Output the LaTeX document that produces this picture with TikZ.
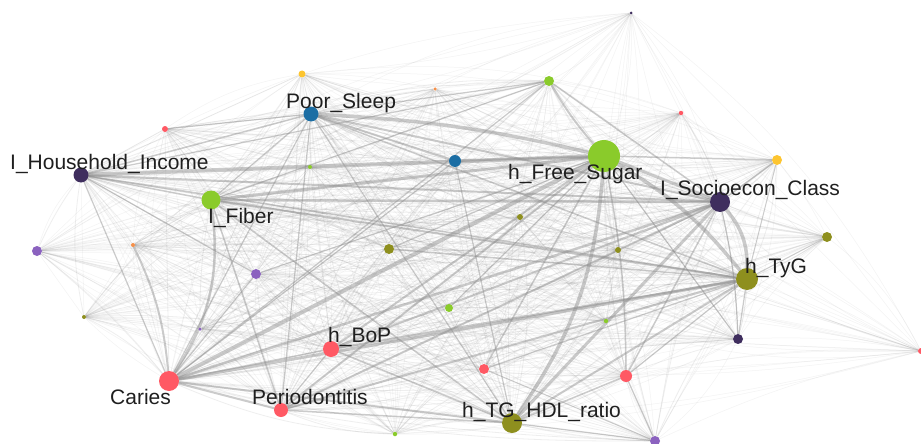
\documentclass[tikz,border=0pt]{standalone}
\usepackage{fontspec}
\setmainfont{Liberation Sans}
\pgfdeclarelayer{back}
\pgfdeclarelayer{bg}
\pgfsetlayers{back,bg,main}
\definecolor{cgreen}{HTML}{8ACB2B}
\definecolor{cblue}{HTML}{1C6EA4}
\definecolor{cdark}{HTML}{3F2E5E}
\definecolor{colive}{HTML}{8E8F1E}
\definecolor{cred}{HTML}{FF5964}
\definecolor{cpurple}{HTML}{8B62BF}
\definecolor{cyellow}{HTML}{FDC530}
\definecolor{corange}{HTML}{F5904A}
\definecolor{edgegray}{HTML}{8C8C8C}
\begin{document}
\begin{tikzpicture}[x=1pt,y=-1pt,
  vtx/.style={circle,inner sep=0pt,draw=none},
  lbl/.style={font=\fontsize{21}{21}\selectfont, text=black!88, inner sep=0pt, anchor=base west},
  faint/.style={draw=edgegray, line width=0.5pt, draw opacity=0.1},
  fan/.style={draw=edgegray, line width=0.8pt, draw opacity=0.14},
  med/.style={draw=edgegray, draw opacity=0.45, line cap=round}]
\useasboundingbox (0,0) rectangle (921,444);
\begin{pgfonlayer}{back}
\fill[white] (0,0) rectangle (921,444);
\end{pgfonlayer}
% vertices
\node[vtx,fill=cdark,minimum size=3pt] (n1) at (631,13) {};
\node[vtx,fill=cyellow,minimum size=7pt] (n2) at (302,74) {};
\node[vtx,fill=corange,minimum size=3.5pt] (n3) at (435,89) {};
\node[vtx,fill=cgreen,minimum size=10pt] (n4) at (549,81) {};
\node[vtx,fill=cred,minimum size=4.5pt] (n5) at (681,113) {};
\node[vtx,fill=cblue,minimum size=15pt] (n6) at (311,114) {};
\node[vtx,fill=cred,minimum size=6pt] (n7) at (165,129) {};
\node[vtx,fill=cblue,minimum size=12pt] (n8) at (455,161) {};
\node[vtx,fill=cgreen,minimum size=32pt] (n9) at (604,156) {};
\node[vtx,fill=cyellow,minimum size=10pt] (n10) at (777,160) {};
\node[vtx,fill=cdark,minimum size=15pt] (n11) at (81,175) {};
\node[vtx,fill=cgreen,minimum size=4pt] (n12) at (310,167) {};
\node[vtx,fill=cgreen,minimum size=19pt] (n13) at (211,200) {};
\node[vtx,fill=cdark,minimum size=20pt] (n14) at (720,202) {};
\node[vtx,fill=colive,minimum size=6pt] (n15) at (520,217) {};
\node[vtx,fill=cpurple,minimum size=10pt] (n16) at (37,251) {};
\node[vtx,fill=corange,minimum size=4pt] (n17) at (133,245) {};
\node[vtx,fill=cpurple,minimum size=10pt] (n18) at (256,274) {};
\node[vtx,fill=colive,minimum size=10pt] (n19) at (389,249) {};
\node[vtx,fill=colive,minimum size=6pt] (n20) at (618,250) {};
\node[vtx,fill=colive,minimum size=10pt] (n21) at (827,237) {};
\node[vtx,fill=colive,minimum size=22pt] (n22) at (747,279) {};
\node[vtx,fill=cgreen,minimum size=8pt] (n23) at (449,308) {};
\node[vtx,fill=cgreen,minimum size=4.5pt] (n24) at (606,321) {};
\node[vtx,fill=colive,minimum size=4pt] (n25) at (84,317) {};
\node[vtx,fill=cpurple,minimum size=3.5pt] (n26) at (200,329) {};
\node[vtx,fill=cred,minimum size=16pt] (n27) at (331,349) {};
\node[vtx,fill=cdark,minimum size=10pt] (n28) at (738,339) {};
\node[vtx,fill=cred,minimum size=6pt] (n29) at (921,351) {};
\node[vtx,fill=cred,minimum size=10pt] (n30) at (484,369) {};
\node[vtx,fill=cred,minimum size=12pt] (n31) at (626,376) {};
\node[vtx,fill=cred,minimum size=20pt] (n32) at (169,381) {};
\node[vtx,fill=cred,minimum size=14pt] (n33) at (281,410) {};
\node[vtx,fill=colive,minimum size=20pt] (n34) at (512,423) {};
\node[vtx,fill=cgreen,minimum size=4.5pt] (n35) at (395,434) {};
\node[vtx,fill=cpurple,minimum size=10pt] (n36) at (655,441) {};
% labels
\node[lbl] (l6) at (286,108) {Poor\_Sleep};
\node[lbl] (l11) at (10,169) {I\_Household\_Income};
\node[lbl] (l13) at (208,223) {I\_Fiber};
\node[lbl] (l9) at (508,179) {h\_Free\_Sugar};
\node[lbl] (l14) at (660,195) {I\_Socioecon\_Class};
\node[lbl] (l22) at (745,273) {h\_TyG};
\node[lbl] (l27) at (328,342) {h\_BoP};
\node[lbl] (l32) at (110,404) {Caries};
\node[lbl] (l33) at (252,404) {Periodontitis};
\node[lbl] (l34) at (462,417) {h\_TG\_HDL\_ratio};
% edges
\begin{pgfonlayer}{bg}
\foreach \i in {1,...,35}{
  \pgfmathtruncatemacro\js{\i+1}
  \foreach \j in {\js,...,36}{
    \pgfmathtruncatemacro\bb{mod(\i*7+\j*13,5)*6-12}
    \draw[faint] (n\i) to[bend left=\bb] (n\j);
  }
}
\foreach \i in {6,9,11,13,14,22,27,32,33,34}{
  \foreach \j in {2,3,4,5,7,8,10,12,15,16,17,18,19,20,21,23,24,25,26,28,30,31,35,36}{
    \pgfmathtruncatemacro\bb{mod(\i*5+\j*11,5)*5-10}
    \draw[fan] (n\i) to[bend left=\bb] (n\j);
  }
}
\foreach \p/\q/\w/\c in {
 9/11/4/0, 9/6/3.5/-5, 9/13/3/0, 9/32/4/0, 9/34/3.5/15, 9/22/3.5/10, 9/14/3/0,
 9/27/2/0, 9/33/2/0, 9/30/1.5/0, 9/31/1.5/5, 9/8/2/0, 9/10/1.5/0, 9/4/2/5,
 9/19/1.2/0, 9/23/1.2/0, 9/28/1.2/0, 9/18/1.2/0,
 14/22/3.5/20, 14/32/2.5/0, 14/34/3/0, 14/33/2/0, 14/27/2/0, 14/13/2.5/0,
 14/11/2/0, 14/6/2/0, 14/10/1.5/0, 14/31/1.5/0, 14/28/1.2/5, 14/4/1.5/0,
 22/32/3/0, 22/33/2/0, 22/34/2/0, 22/27/2/0, 22/13/2/0, 22/11/1.5/0, 22/6/1.5/0,
 22/19/1.5/0, 22/28/1.2/0, 22/31/1.2/0, 22/30/1.2/0,
 32/33/2/0, 32/34/2/0, 32/27/1.5/0, 32/17/2/-10, 32/13/2.5/-20, 32/18/1.2/0,
 32/6/1.2/0, 32/4/1.2/0,
 34/27/1.5/0, 34/33/1.5/0, 34/31/1.5/0, 34/36/1.2/0, 34/13/1.5/0, 34/6/1.2/0,
 33/27/1.2/0, 33/13/1.5/0, 33/6/1.2/0,
 6/8/2/0, 6/13/1.2/0, 6/11/1.5/0, 6/7/1.2/0, 6/4/1.2/0,
 4/13/1.2/0, 4/11/1.2/0, 11/13/1.5/0, 11/32/1.2/0, 11/18/1.2/0,
 8/34/1.2/0, 8/32/1.2/0, 31/36/1.2/0, 30/36/1/0, 21/22/1/0, 10/22/1/0}{
  \draw[med, line width=\w pt] (n\p) to[bend left=\c] (n\q);
}
\end{pgfonlayer}
\end{tikzpicture}
\end{document}
